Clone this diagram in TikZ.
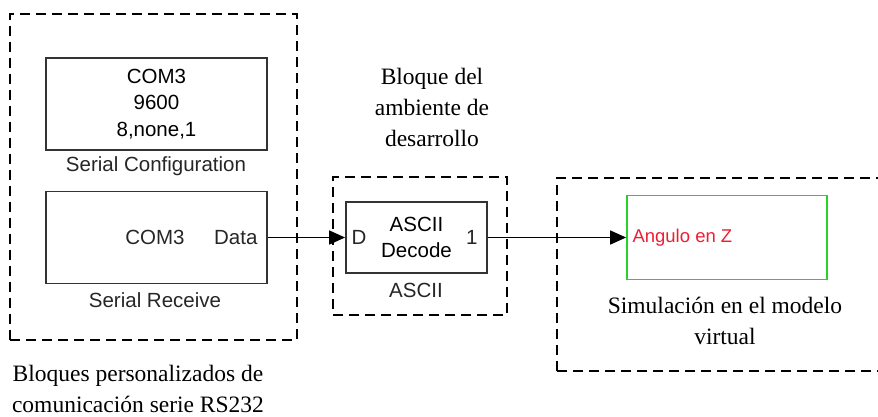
\documentclass[tikz,border=0pt]{standalone}
\usepackage{fontspec}
\setmainfont{Liberation Serif}
\setsansfont{Liberation Sans}
\usetikzlibrary{arrows.meta, positioning}
\definecolor{simgreen}{RGB}{40,210,40}
\definecolor{simred}{RGB}{235,30,50}

\begin{document}
\begin{tikzpicture}[x=1pt, y=-1pt,
  group/.style={rectangle, draw, dash pattern=on 10pt off 6pt, line width=1.8pt, inner sep=0pt},
  block/.style={rectangle, draw=black!80, line width=1.8pt, inner sep=0pt, align=center, font=\sffamily\fontsize{20.5}{26.5}\selectfont},
  blabel/.style={font=\sffamily\fontsize{20.5}{26}\selectfont, text=black!85},
  note/.style={align=center, font=\fontsize{23.5}{31}\selectfont},
  arrow/.style={line width=1.6pt, -{Triangle[length=16pt, width=14pt]}}]

\useasboundingbox (0,0) rectangle (878,416);

% communication blocks
\node[group, minimum width=287pt, minimum height=326pt] (commgroup) at (153.5,177) {};
\node[block, minimum width=221pt, minimum height=92pt] (config) at (156.5,104) {COM3\\9600\\8,none,1};
\node[blabel] (configlbl) at (156,166) {Serial Configuration};
\node[block, minimum width=221pt, minimum height=92pt] (receive) at (156.5,237.5) {};
\node[blabel] (receivecom) at (155,237.5) {COM3};
\node[blabel, anchor=east] (dataport) at (261,237.5) {Data};
\node[blabel] (receivelbl) at (155,300) {Serial Receive};
\node[note] (commnote) at (138,389) {Bloques personalizados de\\comunicación serie RS232};

% development block
\node[note] (devnote) at (432,107) {Bloque del\\ambiente de\\desarrollo};
\node[group, minimum width=174pt, minimum height=138pt] (devgroup) at (420,246) {};
\node[block, minimum width=141pt, minimum height=71pt] (decode) at (416.5,237.5) {ASCII\\Decode};
\node[blabel, anchor=west] (dport) at (348,237.5) {D};
\node[blabel, anchor=east] (oneport) at (481,237.5) {1};
\node[blabel] (decodelbl) at (416,290) {ASCII};

% virtual model
\node[group, minimum width=340pt, minimum height=193pt, anchor=north west] (simgroup) at (556,177) {};
\node[block, draw=simgreen, minimum width=200pt, minimum height=84pt] (anglebox) at (727,237.5) {};
\node[blabel, text=simred, anchor=west, font=\sffamily\fontsize{18.5}{22}\selectfont] (anglelbl) at (629,237.5) {Angulo en Z};
\node[note] (simnote) at (725,321) {Simulación en el modelo\\virtual};

\draw[arrow] (receive.east) -- (decode.west);
\draw[arrow] (decode.east) -- (anglebox.west);

\end{tikzpicture}
\end{document}
